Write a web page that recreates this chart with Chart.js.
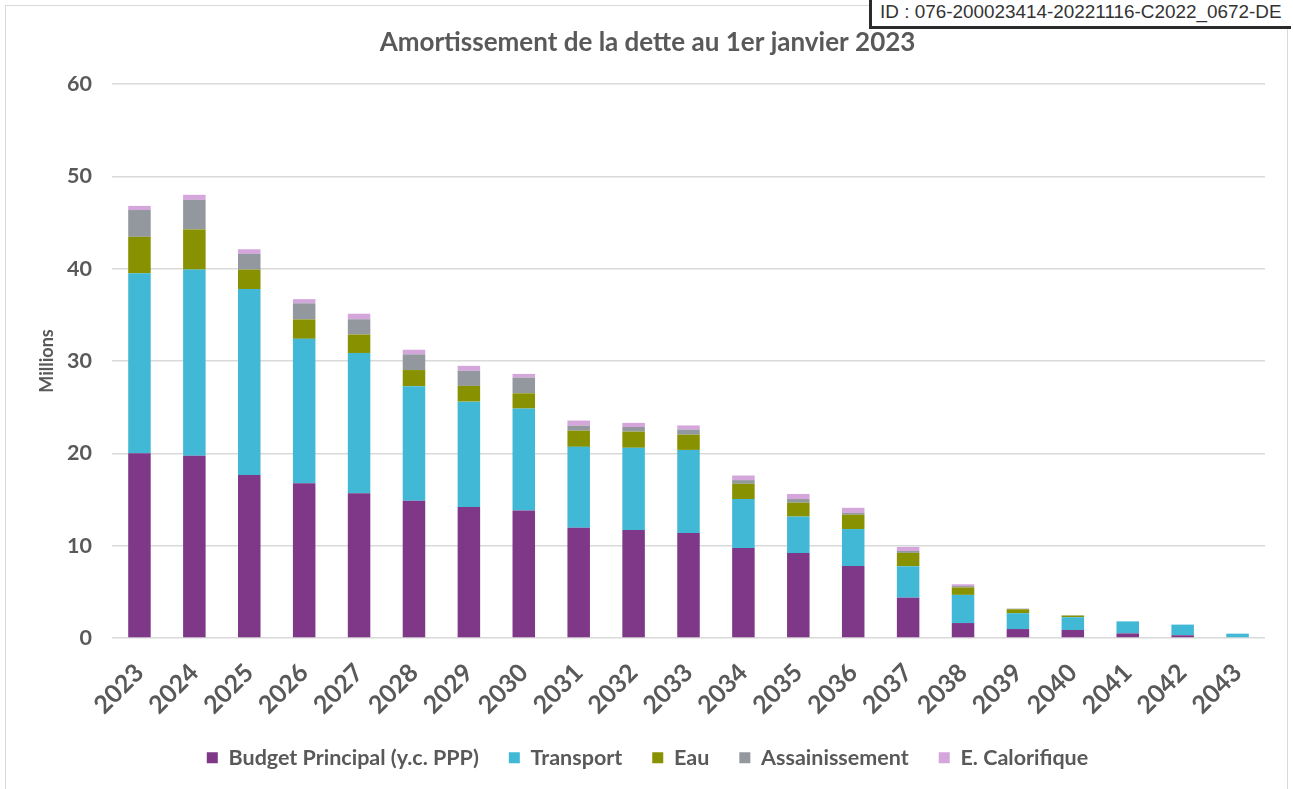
<!DOCTYPE html>
<html><head><meta charset="utf-8">
<script src="https://cdn.jsdelivr.net/npm/chart.js@4.4.1/dist/chart.umd.min.js"></script>
<style>
body{margin:0;background:#fff;overflow:hidden;}
#wrap{position:relative;width:1293px;height:789px;overflow:hidden;}
#frame{position:absolute;left:5px;top:5px;width:1283px;height:820px;border:1px solid #d9d9d9;box-sizing:border-box;}
#c{position:absolute;left:0;top:0;}
#idbox{position:absolute;left:869px;top:-4px;width:422px;height:33px;background:#fff;border-left:3px solid #2b2b2b;border-bottom:3px solid #2b2b2b;box-sizing:border-box;font-family:'Liberation Sans',Arial,sans-serif;font-size:18.9px;color:#333;line-height:30px;padding-left:8px;padding-top:1px;white-space:nowrap;}
</style></head>
<body><div id="wrap"><div id="frame"></div><canvas id="c" width="1293" height="789"></canvas><div id="idbox">ID : 076-200023414-20221116-C2022_0672-DE</div></div>
<script>
const categories = ['2023','2024','2025','2026','2027','2028','2029','2030','2031','2032','2033','2034','2035','2036','2037','2038','2039','2040','2041','2042','2043'];
const budgetPrincipal = [20.0,19.75,17.65,16.75,15.67,14.87,14.2,13.8,11.95,11.7,11.37,9.75,9.2,7.8,4.37,1.62,0.97,0.87,0.5,0.3,0];
const transport = [19.5,20.15,20.15,15.65,15.2,12.4,11.4,11.05,8.75,8.9,9.0,5.3,3.95,4.0,3.4,3.05,1.72,1.38,1.3,1.15,0.47];
const eau = [3.95,4.35,2.1,2.1,2.0,1.75,1.7,1.65,1.75,1.75,1.65,1.65,1.5,1.55,1.45,0.8,0.42,0.18,0,0,0];
const assainissement = [2.9,3.2,1.7,1.75,1.65,1.7,1.63,1.7,0.55,0.5,0.55,0.4,0.4,0.2,0.2,0.15,0.07,0.03,0,0,0];
const calorifique = [0.45,0.55,0.5,0.45,0.6,0.5,0.55,0.4,0.55,0.45,0.45,0.5,0.55,0.55,0.45,0.2,0,0,0,0,0];
const seriesNames = ['Budget Principal (y.c. PPP)','Transport','Eau','Assainissement','E. Calorifique'];
const yTicks = [0,10,20,30,40,50,60];

const colors = ['#7E3887','#41B9D6','#889100','#92989D','#D4A6DC'];
const FONT = 'Lato, "Open Sans", sans-serif';
const TXT = '#595959';
const seriesData = [budgetPrincipal, transport, eau, assainissement, calorifique];

new Chart(document.getElementById('c'), {
  type: 'bar',
  data: {
    labels: categories,
    datasets: seriesData.map((d,i)=>({
      label: seriesNames[i], data: d, backgroundColor: colors[i], borderWidth: 0,
      categoryPercentage: 1, barPercentage: 0.41
    }))
  },
  options: {
    responsive: false, animation: false,
    layout: { padding: { left: 30, right: 28, top: 0, bottom: 10.5 } },
    plugins: {
      title: { display: true, text: 'Amortissement de la dette au 1er janvier 2023', color: TXT,
        font: { family: FONT, size: 26, weight: 'bold' }, padding: { top: 27, bottom: 25.8 } },
      legend: { position: 'bottom', labels: { color: TXT, font: { family: FONT, size: 21.5, weight: 'bold' },
        boxWidth: 11, boxHeight: 11, padding: 30 } },
      tooltip: { enabled: false }
    },
    scales: {
      x: { stacked: true, grid: { display: false }, border: { display: false },
        ticks: { color: TXT, font: { family: FONT, size: 25, weight: 'bold' }, maxRotation: 45, minRotation: 45, autoSkip: false, padding: 12 },
        afterFit: s => { s.height = 79; } },
      y: { stacked: true, min: 0, max: 60,
        afterBuildTicks: s => { s.ticks = yTicks.map(v=>({value:v})); },
        grid: { color: '#d9d9d9', lineWidth: 1.5, drawTicks: false }, border: { display: false },
        ticks: { color: TXT, font: { family: FONT, size: 21.5, weight: 'bold' }, padding: 20 },
        title: { display: true, text: 'Millions', color: TXT, font: { family: FONT, size: 18, weight: 'bold' }, padding: { top: 6, bottom: 4 } },
        afterFit: s => { s.width = 82; } }
    }
  }
});
</script></body></html>
